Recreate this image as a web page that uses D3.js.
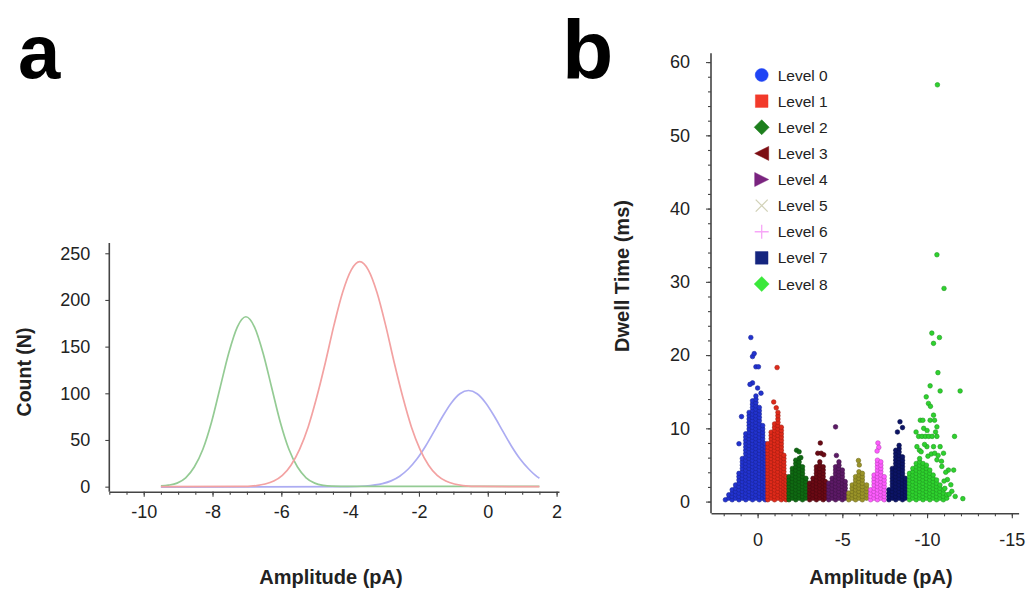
<!DOCTYPE html>
<html><head><meta charset="utf-8">
<script src="https://cdn.jsdelivr.net/npm/d3@7"></script>
<style>
body{margin:0;background:#fff;}
svg{display:block;font-family:"Liberation Sans",Arial,Helvetica,sans-serif;}
</style></head><body>
<svg id="c" width="1032" height="592"></svg>
<script>
// ---------- DATA: panel a (fitted Gaussian curves) ----------
const xTicksA = [-10, -8, -6, -4, -2, 0, 2];
const yTicksA = [0, 50, 100, 150, 200, 250];
const greenCurve = [[-9.5,0.8],[-9.28,1.6],[-9.03,3.8],[-8.78,9.5],[-8.53,21],[-8.28,40],[-8.03,69],[-7.78,106],[-7.53,143],[-7.28,171],[-7.03,182],[-6.78,171],[-6.53,143],[-6.28,106],[-6.03,69],[-5.78,40],[-5.53,21],[-5.28,9.5],[-5.03,3.8],[-4.78,1.4],[-4.53,0.6],[-4.0,0.3],[1.5,0.3]];
const redCurve = [[-9.5,0],[-7.22,0.2],[-6.72,1.2],[-6.47,2.8],[-6.22,6],[-5.97,12],[-5.72,23],[-5.47,40],[-5.22,64],[-4.97,96],[-4.72,133],[-4.47,173],[-4.22,208],[-3.97,232],[-3.72,241],[-3.47,232],[-3.22,208],[-2.97,173],[-2.72,133],[-2.47,96],[-2.22,64],[-1.97,40],[-1.72,23],[-1.47,12],[-1.22,6],[-0.97,2.8],[-0.72,1.2],[-0.22,0.2],[1.5,0]];
const blueCurve = [[-9.5,-0.5],[-4.06,0.1],[-3.56,0.7],[-3.06,3.2],[-2.81,6.2],[-2.56,11.2],[-2.31,18.9],[-2.06,29.6],[-1.81,43.3],[-1.56,59.2],[-1.31,75.4],[-1.06,89.7],[-0.81,99.5],[-0.56,103],[-0.31,99.5],[-0.06,89.7],[0.19,75.4],[0.44,59.2],[0.69,43.3],[0.94,29.6],[1.19,18.9],[1.44,10.5],[1.5,9]];

// ---------- DATA: panel b (dwell time vs amplitude scatter) ----------
const xTicksB = [0, -5, -10, -15];
const yTicksB = [0, 10, 20, 30, 40, 50, 60];
const levelNames = ["Level 0","Level 1","Level 2","Level 3","Level 4","Level 5","Level 6","Level 7","Level 8"];
// dense part of each level: columns [amplitude, top dwell time of the stacked points]
const levelColumns = [
  [[1.9,0.5],[1.7,1.0],[1.5,1.6],[1.3,2.5],[1.1,4.0],[0.9,6.0],[0.7,9.5],[0.5,12.5],[0.3,14],[0.1,14.5],[-0.1,13],[-0.3,10.5],[-0.45,8]],
  [[-0.6,8],[-0.8,9.5],[-1.0,11],[-1.2,12.5],[-1.4,10.5],[-1.55,6.5],[-1.68,3.5]],
  [[-1.85,3.5],[-2.05,4.8],[-2.25,5.8],[-2.45,6.0],[-2.65,5.0],[-2.85,3.2]],
  [[-3.07,2.5],[-3.27,3.5],[-3.47,4.8],[-3.67,5.5],[-3.87,4.8],[-4.0,3.0]],
  [[-4.2,2.5],[-4.4,3.5],[-4.6,5.0],[-4.8,5.8],[-5.0,4.5],[-5.17,2.8]],
  [[-5.38,1.5],[-5.58,2.6],[-5.78,3.6],[-5.98,4.3],[-6.18,3.9],[-6.43,2.5]],
  [[-6.67,2.0],[-6.87,3.8],[-7.07,5.8],[-7.27,5.8],[-7.47,3.8]],
  [[-7.75,2.0],[-7.95,4.8],[-8.15,7.2],[-8.35,8.0],[-8.55,6.5],[-8.72,3.5]],
  [[-8.96,4.0],[-9.16,4.8],[-9.36,5.5],[-9.56,6.0],[-9.76,5.5],[-9.96,5.0],[-10.16,4.3],[-10.36,3.8],[-10.56,3.2],[-10.76,2.5],[-10.96,1.8],[-11.16,1.2]]
];
// sparse points of each level: [amplitude, dwell time]
const levelOutliers = [
  [[0.4,22.4],[0.3,19.8],[0.2,20.2],[0.1,18.4],[-0.05,18.4],[0.3,16.2],[0.45,16],[0.95,11.6],[1.1,7.9],[0.0,15.5],[-0.2,14.8]],
  [[-1.15,18.3],[-0.95,13.6],[-1.1,12.8]],
  [[-2.3,7.0],[-2.45,6.8],[-2.55,6.0]],
  [[-3.7,8.0],[-3.55,6.6],[-3.75,6.6],[-3.9,6.4]],
  [[-4.6,10.2],[-4.65,6.3]],
  [[-5.95,5.6],[-6.0,5.0]],
  [[-7.1,8.0],[-7.15,7.4],[-7.05,6.9]],
  [[-8.4,10.9],[-8.25,9.5],[-8.55,10.1]],
  [[-10.61,56.9],[-10.58,33.7],[-11.0,29.1],[-10.28,23.0],[-10.73,22.4],[-10.38,21.6],[-10.64,17.6],[-10.18,15.8],[-10.77,15.1],[-11.95,15.1],[-9.95,14.3],[-10.08,13.4],[-10.2,13.0],[-9.6,11.1],[-9.75,11.1],[-10.18,11.1],[-10.44,11.1],[-10.38,11.8],[-11.62,8.9],[-10.58,10.2],[-9.5,8.9],[-9.7,8.9],[-9.9,8.9],[-10.1,8.9],[-10.3,8.9],[-10.58,8.9],[-9.4,7.5],[-9.99,7.5],[-10.38,7.5],[-10.77,7.5],[-10.97,6.6],[-10.58,5.7],[-10.87,4.8],[-11.26,4.3],[-11.57,4.3],[-11.46,1.4],[-11.66,0.7],[-12.11,0.4],[-9.35,9.5],[-9.8,10.0],[-10.0,9.7],[-10.5,9.5],[-9.55,7.0],[-9.85,7.8],[-10.25,6.5],[-10.45,6.6],[-10.65,6.3],[-11.4,2.3],[-11.2,3.0],[-11.0,2.8],[-11.3,1.0],[-9.65,6.8],[-10.05,6.2],[-10.85,5.5],[-11.1,4.0],[-11.05,1.8]]
];

// ---------- STYLES ----------
const curveColors = {green:"#94cb94", red:"#f3a2a2", blue:"#acacf2"};
const dotColors = ["#2233d0","#e02a1a","#0f6a12","#6a0a14","#5c1a66","#9a9428","#ff5cff","#0c1466","#2ed22e"];
const legendColors = ["#1f44f5","#f23a2a","#1d7f1d","#7d0d12","#7a247f","#d2d2b8","#f7a6f7","#15257f","#3ae83a"];
const legendShapes = ["circle","square","diamond","triLeft","triRight","cross","plus","square","diamond"];
const axisColor = "#444", textColor = "#222";
const fmt = d => String(d);   // plain hyphen-minus like the reference

const svg = d3.select("#c");

// ================= PANEL A =================
const xA = d3.scaleLinear().domain([-11, 2.07]).range([109.3, 559]);
const yA = d3.scaleLinear().domain([-5.4, 261]).range([491.7, 243]);

function styleAxis(g){
  g.selectAll("path.domain").attr("stroke", axisColor).attr("stroke-width", 1.6);
  g.selectAll(".tick line").attr("stroke", axisColor).attr("stroke-width", 1.1);
  g.selectAll(".tick text").attr("fill", textColor).attr("font-size", 18)
    .attr("font-family", '"Liberation Sans",Arial,sans-serif');
}

svg.append("g").attr("transform","translate(0,491.7)")
  .call(d3.axisBottom(xA).tickValues(d3.range(-11, 2.01, 0.5)).tickSize(3).tickSizeOuter(0).tickFormat(""))
  .call(styleAxis);
svg.append("g").attr("transform","translate(0,491.7)")
  .call(d3.axisBottom(xA).tickValues(xTicksA).tickSize(5).tickSizeOuter(0).tickPadding(9).tickFormat(fmt))
  .call(styleAxis).call(g => g.select("path.domain").remove());
svg.append("g").attr("transform","translate(109.3,0)")
  .call(d3.axisLeft(yA).tickValues(yTicksA).tickSize(4).tickSizeOuter(0).tickPadding(15).tickFormat(fmt))
  .call(styleAxis)
  .call(g => g.select("path.domain").attr("d", `M0,${yA.range()[1]}V${yA.range()[0]}`));

const lineA = d3.line().x(d => xA(d[0])).y(d => yA(d[1])).curve(d3.curveMonotoneX);
[[blueCurve, curveColors.blue],[greenCurve, curveColors.green],[redCurve, curveColors.red]].forEach(([data,c]) => {
  svg.append("path").attr("d", lineA(data)).attr("fill","none").attr("stroke", c).attr("stroke-width", 1.7);
});

svg.append("text").attr("transform","translate(24,372) rotate(-90)").attr("text-anchor","middle")
  .attr("dominant-baseline","central").attr("font-weight","bold").attr("font-size",19.5).attr("fill",textColor)
  .text("Count (N)");
svg.append("text").attr("x",331).attr("y",584).attr("text-anchor","middle")
  .attr("font-weight","bold").attr("font-size",20).attr("fill",textColor).text("Amplitude (pA)");

svg.append("text").attr("x",18).attr("y",78).attr("font-weight","bold").attr("font-size",76)
  .attr("font-family",'"Liberation Sans",Arial,sans-serif').attr("fill","#000").text("a");

// ================= PANEL B =================
const xB = d3.scaleLinear().domain([2.75, -15.4]).range([711, 1018.6]);
const yB = d3.scaleLinear().domain([-1.6, 61.2]).range([513.3, 53.3]);

svg.append("g").attr("transform","translate(0,513.3)")
  .call(d3.axisBottom(xB).tickValues(d3.range(2, -15.01, -1)).tickSize(3).tickSizeOuter(0).tickFormat(""))
  .call(styleAxis);
svg.append("g").attr("transform","translate(0,513.3)")
  .call(d3.axisBottom(xB).tickValues(xTicksB).tickSize(5).tickSizeOuter(0).tickPadding(15).tickFormat(fmt))
  .call(styleAxis).call(g => g.select("path.domain").remove());
svg.append("g").attr("transform","translate(711,0)")
  .call(d3.axisLeft(yB).tickValues(d3.range(0, 61, 2)).tickSize(3).tickSizeOuter(0).tickFormat(""))
  .call(styleAxis)
  .call(g => g.select("path.domain").attr("d", `M0,${yB.range()[1]}V${yB.range()[0]}`));
svg.append("g").attr("transform","translate(711,0)")
  .call(d3.axisLeft(yB).tickValues(yTicksB).tickSize(5).tickSizeOuter(0).tickPadding(16).tickFormat(fmt))
  .call(styleAxis).call(g => g.select("path.domain").remove());

// scatter points
levelColumns.forEach((cols, li) => {
  const pts = [];
  cols.forEach(([amp, top], ci) => {
    for (let d = 0.25 + (ci % 2) * 0.22; d <= top + 0.01; d += 0.45) pts.push([amp, d]);
  });
  levelOutliers[li].forEach(p => pts.push(p));
  const c = dotColors[li];
  svg.append("g").selectAll("circle").data(pts).join("circle")
    .attr("cx", d => xB(d[0])).attr("cy", d => yB(d[1])).attr("r", 2.3)
    .attr("fill", c).attr("stroke", d3.color(c).darker(0.9)).attr("stroke-width", 0.6);
});

// legend
const shapePath = {
  circle: r => d3.symbol(d3.symbolCircle, Math.PI*r*r)(),
  square: r => `M${-r},${-r}H${r}V${r}H${-r}Z`,
  diamond: r => `M0,${-r}L${r},0L0,${r}L${-r},0Z`,
  triLeft: r => `M${-r},0L${r},${-r}L${r},${r}Z`,
  triRight: r => `M${r},0L${-r},${-r}L${-r},${r}Z`,
  cross: r => `M${-r},${-r}L${r},${r}M${-r},${r}L${r},${-r}`,
  plus: r => `M${-r},0H${r}M0,${-r}V${r}`
};
const shapeSize = {circle:6.5, square:6.3, diamond:7.5, triLeft:7, triRight:7, cross:6, plus:7};
const legY = d3.scalePoint().domain(levelNames).range([75, 284]);
const leg = svg.append("g").selectAll("g").data(levelNames).join("g")
  .attr("transform", d => `translate(761.7,${legY(d)})`);
leg.append("path").attr("d", (d,i) => shapePath[legendShapes[i]](shapeSize[legendShapes[i]]))
  .attr("fill", (d,i) => (legendShapes[i]==="cross"||legendShapes[i]==="plus") ? "none" : legendColors[i])
  .attr("stroke", (d,i) => legendColors[i])
  .attr("stroke-width", (d,i) => (legendShapes[i]==="cross"||legendShapes[i]==="plus") ? 1.3 : 0.5);
leg.append("text").attr("x", 16).attr("dy","0.36em").attr("font-size",15.5).attr("fill",textColor).text(d => d);

svg.append("text").attr("transform","translate(622,276) rotate(-90)").attr("text-anchor","middle")
  .attr("dominant-baseline","central").attr("font-weight","bold").attr("font-size",20).attr("fill",textColor)
  .text("Dwell Time (ms)");
svg.append("text").attr("x",881).attr("y",584).attr("text-anchor","middle")
  .attr("font-weight","bold").attr("font-size",20).attr("fill",textColor).text("Amplitude (pA)");

svg.append("text").attr("x",562).attr("y",79).attr("font-weight","bold").attr("font-size",84)
  .attr("font-family",'"Liberation Sans",Arial,sans-serif').attr("fill","#000").text("b");
</script></body></html>
